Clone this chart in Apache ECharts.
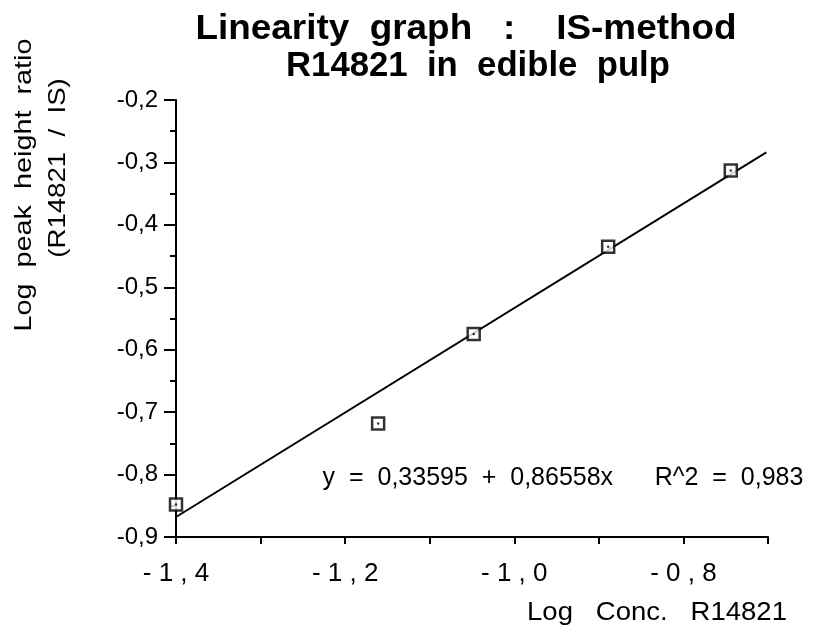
<!DOCTYPE html>
<html><head><meta charset="utf-8">
<script src="https://cdn.jsdelivr.net/npm/echarts@6/dist/echarts.min.js"></script>
<style>html,body{margin:0;padding:0;background:#fff}#c{width:817px;height:633px}</style>
</head><body><div id="c"></div>
<script>
const xValues = [-1.400, -1.161, -1.048, -0.889, -0.744];
const yValues = [-0.848, -0.718, -0.575, -0.435, -0.313];
const fitX = [-1.400, -0.702];
const fitY = [-0.868, -0.284];
const xTickLabels = {'-1.4':'- 1 , 4','-1.2':'- 1 , 2','-1':'- 1 , 0','-0.8':'- 0 , 8'};
const yTickLabels = ['-0,9','-0,8','-0,7','-0,6','-0,5','-0,4','-0,3','-0,2'];
const titleLines = ['Linearity  graph   :    IS-method', 'R14821  in  edible  pulp'];
const yTitleLines = ['Log  peak  height  ratio', '(R14821  /  IS)'];
const xTitle = 'Log   Conc.   R14821';
const equationText = 'y  =  0,33595  +  0,86558x      R^2  =  0,983';

const font = '"Liberation Sans", Arial, sans-serif';
const chart = echarts.init(document.getElementById('c'));
const pts = xValues.map((x,i)=>[x,yValues[i]]);
const fit = fitX.map((x,i)=>[x,fitY[i]]);
chart.setOption({
  animation:false,
  backgroundColor:'#fff',
  grid:{left:176,right:49,top:100,bottom:96},
  xAxis:{type:'value',min:-1.4,max:-0.7,interval:0.1,
    axisLine:{lineStyle:{color:'#000',width:2}},
    axisTick:{length:7,lineStyle:{color:'#000',width:2}},
    splitLine:{show:false},
    axisLabel:{color:'#000',fontFamily:font,fontSize:26,margin:24,
      formatter:v=>{const k=String(Math.round(v*10)/10);return xTickLabels[k]||'';}}
  },
  yAxis:{type:'value',min:-0.9,max:-0.2,interval:0.1,
    axisLine:{lineStyle:{color:'#000',width:2}},
    axisTick:{length:12,lineStyle:{color:'#000',width:2}},
    minorTick:{show:true,splitNumber:2,length:6,lineStyle:{color:'#000',width:2}},
    splitLine:{show:false},
    axisLabel:{color:'#000',fontFamily:font,fontSize:24,margin:18,
      formatter:v=>yTickLabels[Math.round((v+0.9)*10)]}
  },
  graphic:[
    {type:'text',x:466,y:29,scaleX:1.19,scaleY:1.15,style:{text:titleLines[0],font:'bold 31px '+font,fill:'#000',align:'center',verticalAlign:'middle'}},
    {type:'text',x:478,y:66,scaleX:1.12,scaleY:1.15,style:{text:titleLines[1],font:'bold 31px '+font,fill:'#000',align:'center',verticalAlign:'middle'}},
    {type:'text',x:24,y:185,rotation:Math.PI/2,scaleX:1.2,style:{text:yTitleLines[0],font:'24px '+font,fill:'#000',align:'center',verticalAlign:'middle'}},
    {type:'text',x:58,y:168,rotation:Math.PI/2,scaleX:1.15,style:{text:yTitleLines[1],font:'24px '+font,fill:'#000',align:'center',verticalAlign:'middle'}},
    {type:'text',x:563,y:478,style:{text:equationText,font:'25px '+font,fill:'#000',align:'center',verticalAlign:'middle'}},
    {type:'text',x:657,y:613,scaleX:1.1,style:{text:xTitle,font:'25px '+font,fill:'#000',align:'center',verticalAlign:'middle'}}
  ],
  series:[
    {type:'line',data:fit,symbol:'none',lineStyle:{color:'#000',width:2},z:2},
    {type:'scatter',data:pts,symbol:'rect',symbolSize:12,itemStyle:{color:'#fff',borderColor:'#000',borderWidth:2.5},z:3},
    {type:'scatter',data:pts,symbol:'circle',symbolSize:2.5,itemStyle:{color:'#000'},z:4,silent:true}
  ]
});
</script></body></html>
